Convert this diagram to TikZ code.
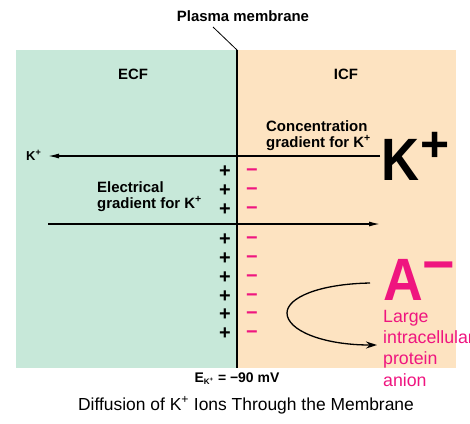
\documentclass[tikz,border=0pt]{standalone}
\usepackage{fontspec}
\setmainfont{Liberation Sans}
\usetikzlibrary{arrows.meta}
\definecolor{ecf}{HTML}{C7E8D9}
\definecolor{icf}{HTML}{FDE3C1}
\definecolor{anion}{HTML}{EF157F}
\begin{document}
\begin{tikzpicture}[x=1bp,y=-1bp,
  lab/.style={font=\fontsize{15}{16}\selectfont\bfseries, inner sep=0pt, align=left},
  pinktext/.style={font=\fontsize{17.8}{21.2}\selectfont, text=anion, inner sep=0pt, align=left},
  arr/.style={line width=1.3bp, -{Latex[length=11bp,width=5bp]}},
  plussign/.style={font=\fontsize{20}{20}\selectfont\bfseries, inner sep=0pt, anchor=base},
  minussign/.style={font=\fontsize{20}{20}\selectfont\bfseries, text=anion, inner sep=0pt, anchor=base}]
\useasboundingbox (0,0) rectangle (470,423);
% compartments
\fill[ecf] (16,50) rectangle (237,368);
\fill[icf] (237,50) rectangle (456,368);
\coordinate (memtop) at (237,50);
\coordinate (membot) at (237,368);
\draw[line width=2bp] (memtop) -- (membot);
% labels
\node[lab, anchor=base] (pm) at (243,21) {Plasma membrane};
\coordinate (pmfoot) at (213,27);
\draw[line width=0.8bp] (pmfoot) -- (memtop);
\node[lab, anchor=base] (ecf) at (133,79) {ECF};
\node[lab, anchor=base] (icf) at (346,79) {ICF};
\node[lab, anchor=base west] (conc) at (266,147) {Concentration\\gradient for K\textsuperscript{+}};
\node[lab, anchor=base west] (elec) at (97,208) {Electrical\\gradient for K\textsuperscript{+}};
% big ions
\node[inner sep=0pt, anchor=base west, font=\fontsize{60}{60}\selectfont\bfseries] (kbig) at (381,180)
  {\scalebox{0.88}[1]{K}\kern1bp\raisebox{18.5bp}{\fontsize{50}{50}\selectfont+}};
\node[inner sep=0pt, anchor=base west, text=anion, font=\fontsize{60}{60}\selectfont\bfseries] (abig) at (383,300)
  {\scalebox{0.92}[1]{A}\raisebox{17bp}{\fontsize{56}{56}\selectfont −}};
\node[pinktext, anchor=base west] (anion) at (383,386) {Large\\intracellular\\protein\\anion};
\node[inner sep=0pt, anchor=base west, font=\fontsize{13}{13}\selectfont\bfseries] (ksm) at (26,160) {K\textsuperscript{+}};
% arrows
\coordinate (cstart) at (380,156);
\coordinate (cend) at (48,156);
\draw[arr] (cstart) -- (cend);
\coordinate (estart) at (48,224);
\coordinate (eend) at (380,224);
\draw[arr] (estart) -- (eend);
\coordinate (astart) at (370,283);
\coordinate (aleft) at (287,313);
\coordinate (aend) at (377,345);
\draw[line width=1.3bp, -{Stealth[length=11bp,width=7bp]}] (astart) .. controls (318,284) and (287,298) .. (aleft) .. controls (287,330) and (322,345) .. (aend);
% charges
\foreach \i/\yy in {1/170,2/189,3/208,4/238,5/257,6/276,7/295,8/313,9/332}{
  \node[plussign] (p\i) at (225,\yy+7) {+};
  \node[minussign] (m\i) at (252,\yy+6) {−};
}
% bottom texts
\node[inner sep=0pt, anchor=base, font=\fontsize{14}{14}\selectfont\bfseries] (ek) at (237,382)
  {E\textsubscript{\fontsize{8}{8}\selectfont K\textsuperscript{+}} = −90 mV};
\node[inner sep=0pt, anchor=base, font=\fontsize{17.5}{18}\selectfont] (cap) at (246,410)
  {Diffusion of K\textsuperscript{+} Ions Through the Membrane};
\end{tikzpicture}
\end{document}
